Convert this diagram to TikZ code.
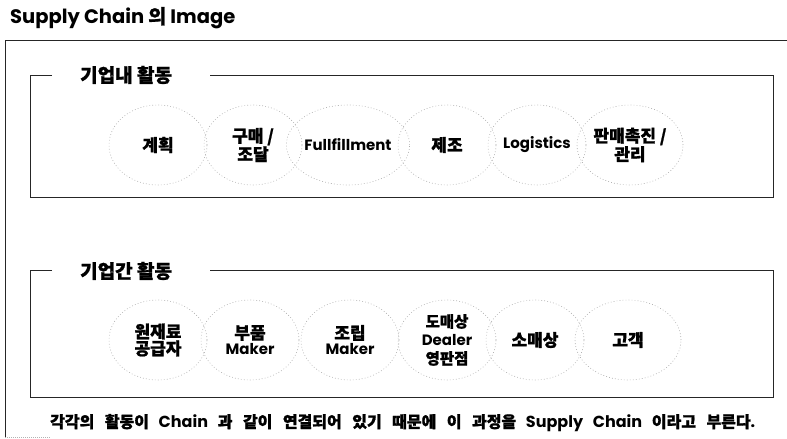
\documentclass[tikz,border=0pt]{standalone}
\usepackage{fontspec}
\setmainfont{Poppins}
\newfontfamily\kr{Noto Sans CJK KR}[BoldFeatures={FakeBold=1.2}]
\newcommand\hgn[1]{{\kr\fontsize{17}{15}\selectfont #1}}
\newcommand\hgf[1]{{\kr\fontsize{16}{17}\selectfont #1}}
\usetikzlibrary{shapes.geometric}
\tikzset{
  act/.style={ellipse, draw=gray!65, line width=0.6pt, dash pattern=on 0.8pt off 2.2pt,
    minimum width=98pt, minimum height=80pt, inner sep=0pt, align=center,
    font=\fontsize{15}{15.5}\selectfont\bfseries},
  frame/.style={draw=black!85, line width=1pt},
  boxtitle/.style={anchor=west, inner sep=0pt, font=\fontsize{19}{20}\selectfont\bfseries\kr}
}
\begin{document}
\begin{tikzpicture}[x=1pt,y=-1pt]
\useasboundingbox (0,0) rectangle (787,439);
% title
\node[anchor=west, inner sep=0pt, font=\fontsize{19.5}{21}\selectfont\bfseries] (title) at (10,18)
  {Supply Chain {\kr 의} Image};
% outer frame
\draw[frame] (787,40) -- (5,40) -- (5,437);
\draw[gray!60, line width=0.6pt, dash pattern=on 0.8pt off 1.2pt] (5,437) -- (50,437);
% inner box 1
\draw[frame] (52,75) -- (30,75) -- (30,197) -- (773,197) -- (773,75) -- (210,75);
\node[boxtitle] (t1) at (80,75) {기업내 활동};
% inner box 2
\draw[frame] (52,270) -- (30,270) -- (30,397) -- (773,397) -- (773,270) -- (210,270);
\node[boxtitle] (t2) at (80,271) {기업간 활동};
% top row
\node[act] (a1) at (158,145) {\hgn{계획}};
\node[act] (a2) at (253,145) {\hgn{구매 /}\\\hgn{조달}};
\node[act] (a3) at (348,145) {Fullfillment};
\node[act] (a4) at (447,145) {\hgn{제조}};
\node[act] (a5) at (537,145) {Logistics};
\node[act, minimum width=106pt] (a6) at (630,145) {\hgn{판매촉진 /}\\\hgn{관리}};
% bottom row
\node[act] (b1) at (158,340) {\hgn{원재료}\\\hgn{공급자}};
\node[act] (b2) at (250,340) {\hgn{부품}\\Maker};
\node[act] (b3) at (350,340) {\hgn{조립}\\Maker};
\node[act, font=\fontsize{15}{18.5}\selectfont\bfseries] (b4) at (447,340)
  {{\kr\fontsize{15.5}{18.5}\selectfont 도매상}\\Dealer\\{\kr\fontsize{15.5}{18.5}\selectfont 영판점}};
\node[act] (b5) at (535,340) {\hgn{소매상}};
\node[act, minimum width=106pt] (b6) at (628,340) {\hgn{고객}};
% footer
\node[anchor=west, inner sep=0pt, font=\fontsize{16}{17}\selectfont\bfseries] (foot) at (50,423)
  {\makebox[705pt][s]{\hgf{각각의 활동이} Chain \hgf{과 같이 연결되어 있기 때문에 이 과정을} Supply Chain \hgf{이라고 부른다}.}};
\end{tikzpicture}
\end{document}
